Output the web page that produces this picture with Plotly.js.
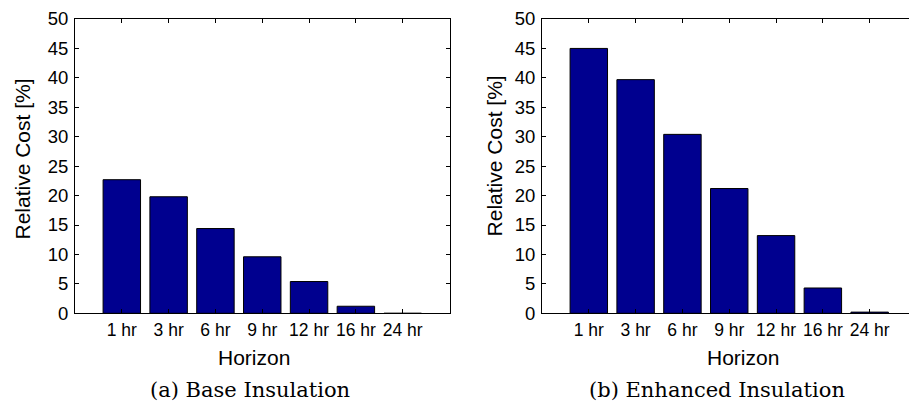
<!DOCTYPE html>
<html>
<head>
<meta charset="utf-8">
<script src="https://cdn.plot.ly/plotly-3.0.1.min.js"></script>
<style>html,body{margin:0;padding:0;background:#fff}#chart{width:909px;height:406px}</style>
</head>
<body>
<div id="chart"></div>
<script>
const horizons = ["1 hr", "3 hr", "6 hr", "9 hr", "12 hr", "16 hr", "24 hr"];
const baseInsulation = [22.7, 19.8, 14.4, 9.6, 5.4, 1.2, 0.0];
const enhancedInsulation = [45.0, 39.7, 30.4, 21.2, 13.2, 4.3, 0.2];
const yTicks = [0, 5, 10, 15, 20, 25, 30, 35, 40, 45, 50];

const W = 909, H = 406;
const px = v => v / W;
const py = v => 1 - v / H;

const barStyle = {
  type: 'bar', width: 0.8,
  marker: {color: '#00008F', line: {color: '#000000', width: 1}},
  hoverinfo: 'skip', showlegend: false
};

const traces = [
  Object.assign({x: horizons, y: baseInsulation, xaxis: 'x', yaxis: 'y'}, barStyle),
  Object.assign({x: horizons, y: enhancedInsulation, xaxis: 'x2', yaxis: 'y2'}, barStyle)
];

const sans = 'Liberation Sans, Arial, sans-serif';
const axBase = {
  showgrid: false, zeroline: false, showline: true, linecolor: '#000', linewidth: 1,
  ticks: 'inside', ticklen: 4, tickwidth: 1, tickcolor: '#000'
};
const xFont = {family: sans, size: 17.5, color: '#000'};
const yFont = {family: sans, size: 18.5, color: '#000'};

const layout = {
  width: W, height: H,
  margin: {l: 0, r: 0, t: 0, b: 0},
  paper_bgcolor: '#fff', plot_bgcolor: '#fff',
  xaxis: Object.assign({}, axBase, {
    domain: [px(75), px(449.5)], type: 'category', range: [-1, 7], mirror: 'ticks',
    anchor: 'y', ticklabelstandoff: 1, tickfont: xFont
  }),
  yaxis: Object.assign({}, axBase, {
    domain: [py(313.3), py(19)], range: [0, 50], tickvals: yTicks, mirror: 'ticks',
    anchor: 'x', ticklabelstandoff: 2, tickfont: yFont
  }),
  xaxis2: Object.assign({}, axBase, {
    domain: [px(542), 1], type: 'category', range: [-1, -1 + (909 - 542) / 46.81], mirror: 'ticks',
    anchor: 'y2', ticklabelstandoff: 1, tickfont: xFont
  }),
  yaxis2: Object.assign({}, axBase, {
    domain: [py(313.3), py(19)], range: [0, 50], tickvals: yTicks, mirror: false,
    anchor: 'x2', ticklabelstandoff: 2, tickfont: yFont
  }),
  annotations: [
    {text: 'Horizon', x: px(254), y: py(357.5)},
    {text: 'Horizon', x: px(743), y: py(357.5)},
    {text: 'Relative Cost [%]', x: px(22), y: py(159.5), textangle: -90},
    {text: 'Relative Cost [%]', x: px(494.7), y: py(155.7), textangle: -90},
    {text: '(a) Base Insulation', x: px(250), y: py(390), serif: true},
    {text: '(b) Enhanced Insulation', x: px(717), y: py(390), serif: true}
  ].map(a => ({
    text: a.text, x: a.x, y: a.y, xref: 'paper', yref: 'paper',
    xanchor: 'center', yanchor: 'middle', showarrow: false, textangle: a.textangle || 0,
    font: a.serif ? {family: 'DejaVu Serif, serif', size: 21, color: '#000'}
                  : {family: sans, size: 21, color: '#000'}
  }))
};

Plotly.newPlot('chart', traces, layout, {displayModeBar: false, staticPlot: true});
</script>
</body>
</html>
